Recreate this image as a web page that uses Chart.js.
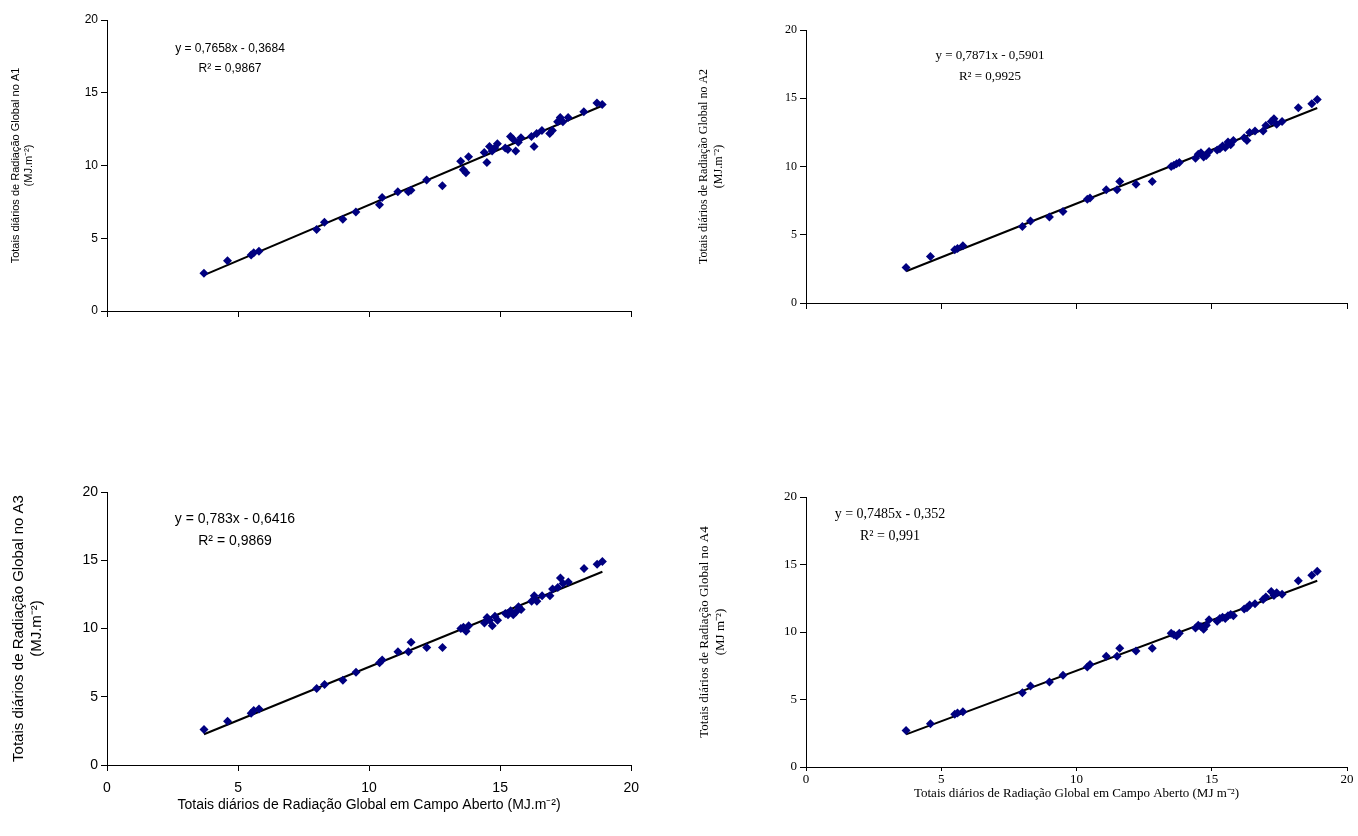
<!DOCTYPE html>
<html><head><meta charset="utf-8">
<script src="https://cdn.jsdelivr.net/npm/chart.js@4/dist/chart.umd.min.js"></script>
<style>body{margin:0;background:#fff;width:1358px;height:836px;position:relative;overflow:hidden}
.c{position:absolute}</style></head><body>
<div class="c" id="d1" style="left:0;top:0;width:645px;height:340px"><canvas id="c1"></canvas></div>
<div class="c" id="d2" style="left:690px;top:0;width:665px;height:340px"><canvas id="c2"></canvas></div>
<div class="c" id="d3" style="left:0;top:470px;width:648px;height:366px"><canvas id="c3"></canvas></div>
<div class="c" id="d4" style="left:690px;top:470px;width:665px;height:366px"><canvas id="c4"></canvas></div>
<script>
const openField = [3.7,4.6,5.5,5.6,5.8,8.0,8.3,9.0,9.5,10.4,10.5,11.1,11.5,11.6,12.2,12.8,13.5,13.6,13.7,13.8,14.4,14.5,14.6,14.7,14.8,14.9,15.2,15.3,15.4,15.5,15.6,15.7,15.8,16.2,16.3,16.4,16.6,16.9,17.0,17.2,17.3,17.4,17.6,18.2,18.7,18.9];
const a1 = [2.6,3.45,3.85,4.0,4.1,5.6,6.1,6.3,6.8,7.3,7.8,8.2,8.2,8.3,9.0,8.6,10.3,9.7,9.5,10.6,10.9,10.2,11.3,11.0,11.2,11.5,11.2,11.1,12.0,11.8,11.0,11.6,11.9,12.0,11.3,12.2,12.4,12.2,12.4,13.0,13.3,13.0,13.3,13.7,14.3,14.2];
const a2 = [2.6,3.4,3.9,4.0,4.2,5.6,6.0,6.3,6.7,7.6,7.7,8.3,8.3,8.9,8.7,8.9,10.0,10.1,10.2,10.3,10.6,10.9,11.0,10.7,10.8,11.1,11.2,11.3,11.5,11.4,11.8,11.6,11.9,12.1,11.9,12.5,12.6,12.6,13.0,13.3,13.5,13.1,13.3,14.3,14.6,14.9];
const a3 = [2.6,3.2,3.8,4.0,4.1,5.6,5.9,6.2,6.8,7.5,7.7,8.3,8.3,9.0,8.6,8.6,10.0,10.1,9.8,10.2,10.4,10.8,10.6,10.2,10.9,10.6,11.1,11.0,11.3,11.0,11.2,11.6,11.4,12.0,12.4,12.0,12.4,12.4,12.9,13.0,13.7,13.3,13.4,14.4,14.7,14.9];
const a4 = [2.7,3.2,3.9,4.0,4.1,5.5,6.0,6.3,6.8,7.4,7.6,8.2,8.2,8.8,8.6,8.8,9.9,9.8,9.7,9.9,10.3,10.5,10.4,10.2,10.5,10.9,10.8,11.0,11.1,11.0,11.2,11.3,11.2,11.7,11.8,12.0,12.1,12.4,12.6,13.0,12.7,12.9,12.8,13.8,14.2,14.5];
const slopes = [0.7658,0.7871,0.783,0.7485];
const intercepts = [-0.3684,-0.5901,-0.6416,-0.352];
const equations = [["y = 0,7658x - 0,3684","R² = 0,9867"],["y = 0,7871x - 0,5901","R² = 0,9925"],["y = 0,783x - 0,6416","R² = 0,9869"],["y = 0,7485x - 0,352","R² = 0,991"]];
const yTitles = [["Totais diários de Radiação Global no A1","(MJ.m⁻²)"],["Totais diários de Radiação Global no A2","(MJ.m⁻²)"],["Totais diários de Radiação Global no A3","(MJ.m⁻²)"],["Totais diários de Radiação Global no A4","(MJ m⁻²)"]];
const xTitles = ["","","Totais diários de Radiação Global em Campo Aberto (MJ.m⁻²)","Totais diários de Radiação Global em Campo Aberto (MJ m⁻²)"];
const lineX = [3.7,18.9];
const series = [a1,a2,a3,a4];

const cfgs = [
 {id:'c1', font:'Liberation Sans', fs:12, tfs:11, padL:9, yW:98, xH:29, padT:20, tpt:8, tpb:0, tickPad:6, tickLen:6, padR:14, showXLbl:false, eq:[230,52], eqFs:12},
 {id:'c2', font:'Liberation Serif', fs:12, tfs:12, padL:7, yW:109, xH:37, padT:30, tpt:8, tpb:0, tickPad:6, tickLen:6, padR:8, showXLbl:false, eq:[300,59], eqFs:13},
 {id:'c3', font:'Liberation Sans', fs:14, tfs:15, padL:10, yW:97, xH:71, padT:22, tpt:8, tpb:22, tickPad:9, tickLen:6, padR:10, showXLbl:true, eq:[235,53], eqFs:14},
 {id:'c4', font:'Liberation Serif', fs:13, tfs:13, padL:7, yW:109, xH:69, padT:27, tpt:6, tpb:35, tickPad:1, tickLen:4, padR:8, showXLbl:true, eq:[200,48], eqFs:14}
];
cfgs.forEach((c,i)=>{
  const pts = openField.map((x,j)=>({x:x,y:series[i][j]}));
  const line = lineX.map(x=>({x:x,y:slopes[i]*x+intercepts[i]}));
  const gridX = {display:true,drawOnChartArea:false,drawTicks:true,tickLength:c.tickLen,tickColor:'#000',color:'#000'};
  const gridY = {display:true,drawOnChartArea:false,drawTicks:true,tickLength:6,tickColor:'#000',color:'#000'};
  new Chart(document.getElementById(c.id),{
    type:'scatter',
    data:{datasets:[
      {data:pts,pointStyle:'rectRot',pointRadius:4.5,backgroundColor:'#000080',borderColor:'#000080',borderWidth:0},
      {type:'line',data:line,borderColor:'#000',borderWidth:2,pointRadius:0,fill:false}
    ]},
    options:{responsive:true,maintainAspectRatio:false,animation:false,
      layout:{padding:{top:c.padT,right:c.padR,left:c.padL}},
      plugins:{legend:{display:false},tooltip:{enabled:false}},
      scales:{
        x:{min:0,max:20,ticks:{stepSize:5,display:c.showXLbl,color:'#000',font:{family:c.font,size:c.fs},padding:c.tickPad},
           grid:gridX, border:{color:'#000'},
           title:{display:!!xTitles[i],text:xTitles[i],color:'#000',font:{family:c.font,size:c.fs},padding:{top:c.tpt,bottom:c.tpb}},
           afterFit:s=>{s.height=c.xH;}},
        y:{min:0,max:20,ticks:{stepSize:5,color:'#000',font:{family:c.font,size:c.fs}},
           grid:gridY, border:{color:'#000'},
           title:{display:true,text:yTitles[i],color:'#000',font:{family:c.font,size:c.tfs},padding:{top:0,bottom:4}},
           afterFit:s=>{s.width=c.yW;}}
      }},
    plugins:[{id:'eq',afterDraw(ch){const g=ch.ctx;g.save();g.fillStyle='#000';g.font=c.eqFs+'px "'+c.font+'"';g.textAlign='center';
      g.fillText(equations[i][0],c.eq[0],c.eq[1]);g.fillText(equations[i][1],c.eq[0],c.eq[1]+c.eqFs+8);g.restore();}}]
  });
});
</script></body></html>
